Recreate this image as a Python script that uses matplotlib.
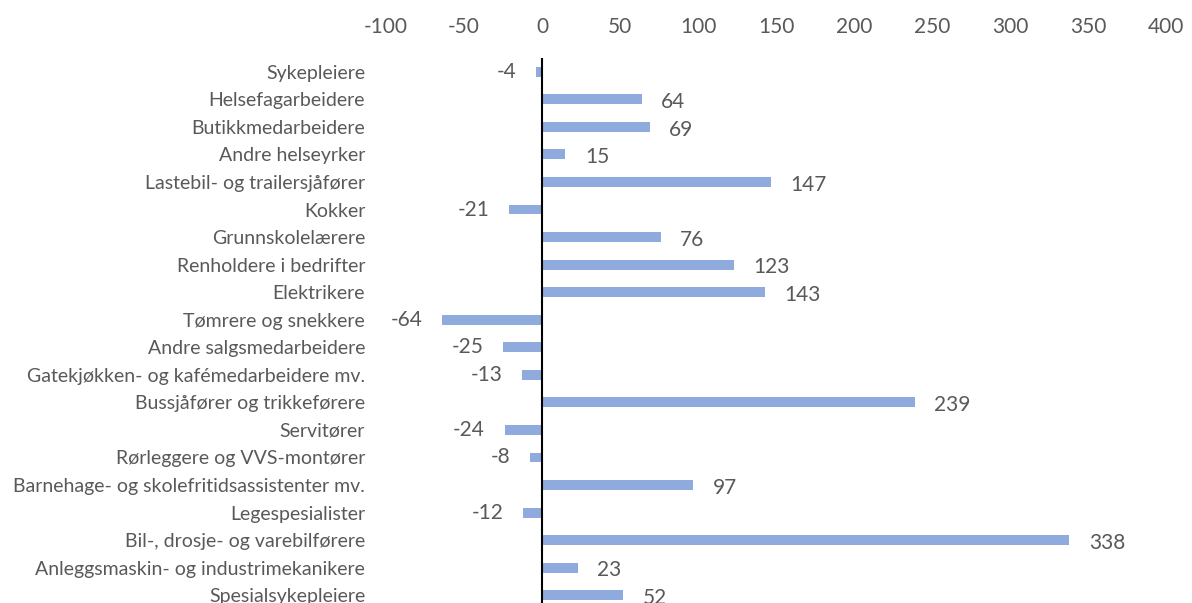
import matplotlib.pyplot as plt

categories = [
    "Sykepleiere", "Helsefagarbeidere", "Butikkmedarbeidere", "Andre helseyrker",
    "Lastebil- og trailersjåfører", "Kokker", "Grunnskolelærere",
    "Renholdere i bedrifter", "Elektrikere", "Tømrere og snekkere",
    "Andre salgsmedarbeidere", "Gatekjøkken- og kafémedarbeidere mv.",
    "Bussjåfører og trikkeførere", "Servitører", "Rørleggere og VVS-montører",
    "Barnehage- og skolefritidsassistenter mv.", "Legespesialister",
    "Bil-, drosje- og varebilførere", "Anleggsmaskin- og industrimekanikere",
    "Spesialsykepleiere",
]
values = [-4, 64, 69, 15, 147, -21, 76, 123, 143, -64, -25, -13, 239, -24, -8, 97, -12, 338, 23, 52]
xticks = [-100, -50, 0, 50, 100, 150, 200, 250, 300, 350, 400]

GREY = "#595959"
plt.rcParams["font.family"] = ["Lato", "DejaVu Sans"]

fig = plt.figure(figsize=(11.92, 6.03), dpi=100)
ax = fig.add_axes([386 / 1192, -6 / 603, 780 / 1192, 551 / 603])

y = list(range(len(categories)))
ax.barh(y, values, height=0.36, color="#8FAADC")
ax.set_ylim(len(categories) - 0.5, -0.5)
ax.set_xlim(-100, 400)

ax.set_yticks(y)
ax.set_yticklabels(categories, fontsize=14, color=GREY)
ax.tick_params(axis="y", length=0, pad=15)

ax.xaxis.tick_top()
ax.set_xticks(xticks)
ax.set_xticklabels([str(t) for t in xticks], fontsize=15, color=GREY)
ax.tick_params(axis="x", length=0, pad=15)

for s in ax.spines.values():
    s.set_visible(False)
ax.axvline(0, color="black", lw=1.5)

# data labels beside each bar
for yi, v in zip(y, values):
    if v >= 0:
        ax.annotate(str(v), (v, yi), xytext=(14, -2), textcoords="offset points",
                    ha="left", va="center", fontsize=15, color=GREY)
    else:
        ax.annotate(str(v), (v, yi), xytext=(-14, 0), textcoords="offset points",
                    ha="right", va="center", fontsize=15, color=GREY)

fig.savefig("out.png", dpi=100)
